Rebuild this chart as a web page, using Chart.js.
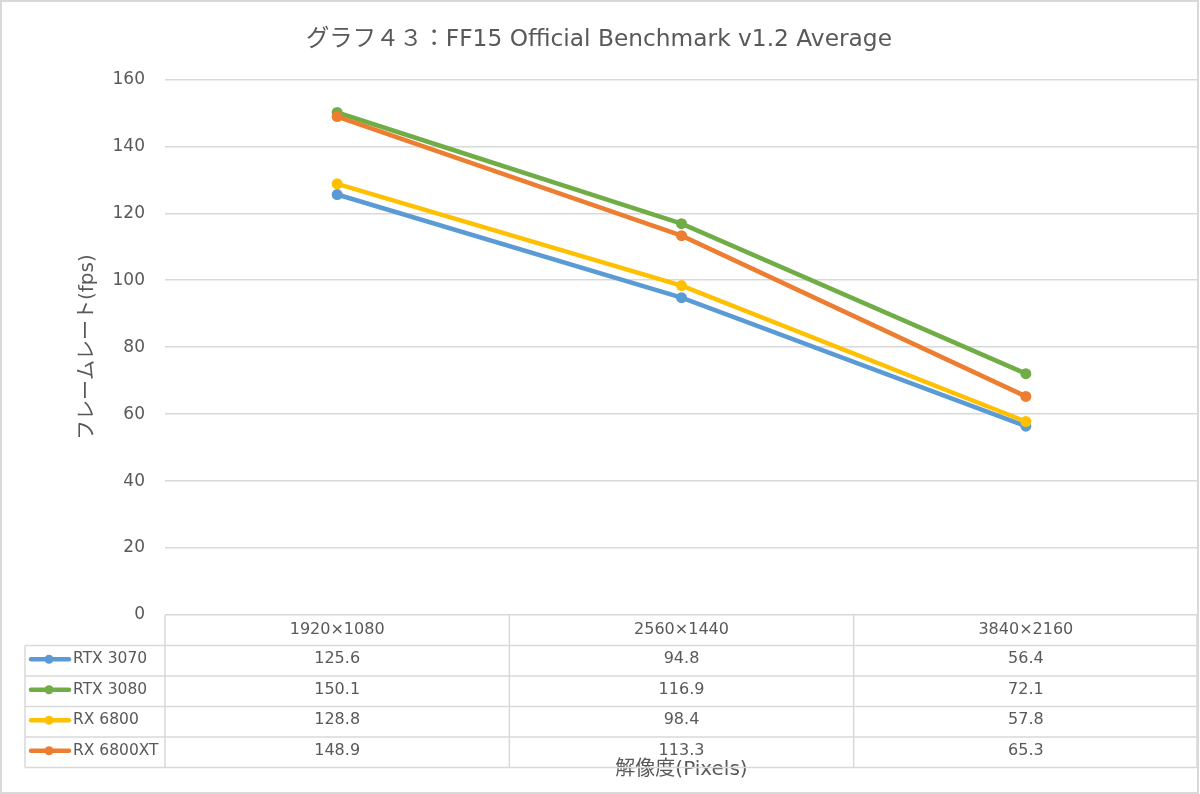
<!DOCTYPE html>
<html>
<head>
<meta charset="utf-8">
<script src="https://cdn.jsdelivr.net/npm/chart.js@4"></script>
<style>
  html, body { margin: 0; padding: 0; background: #fff; }
  #wrap { width: 1200px; height: 794px; position: relative; }
</style>
</head>
<body>
<div id="wrap"><canvas id="c"></canvas></div>
<script>
const categories = ['1920×1080', '2560×1440', '3840×2160'];
const seriesNames = ['RTX 3070', 'RTX 3080', 'RX 6800', 'RX 6800XT'];
const rtx3070 = [125.6, 94.8, 56.4];
const rtx3080 = [150.1, 116.9, 72.1];
const rx6800 = [128.8, 98.4, 57.8];
const rx6800xt = [148.9, 113.3, 65.3];
const seriesColors = ['#5B9BD5', '#70AD47', '#FFC000', '#ED7D31'];
const yMin = 0, yMax = 160, yStep = 20;
const chartTitle = 'グラフ４３：FF15 Official Benchmark v1.2 Average';
const yTitle = 'フレームレート(fps)';
const xTitle = '解像度(Pixels)';

const seriesValues = [rtx3070, rtx3080, rx6800, rx6800xt];
const FONT = "'DejaVu Sans', 'Noto Sans CJK JP', sans-serif";
const TEXT = '#595959';
const GRID = '#d9d9d9';

const tablePlugin = {
  id: 'dataTable',
  afterDraw(chart) {
    const ctx = chart.ctx;
    const xs = chart.scales.x;
    const area = chart.chartArea;
    const left = xs.left, right = xs.right;
    const n = categories.length;
    const colW = (right - left) / n;
    const top = area.bottom;
    const headerH = 30.5, rowH = 30.5;
    const legendLeft = 25;
    const bottom = top + headerH + seriesNames.length * rowH;
    const rightEdge = Math.min(right, chart.width - 3);
    ctx.save();
    ctx.strokeStyle = GRID;
    ctx.lineWidth = 1.5;
    const line = (x1, y1, x2, y2) => { ctx.beginPath(); ctx.moveTo(x1, y1); ctx.lineTo(x2, y2); ctx.stroke(); };
    for (let r = 0; r <= seriesNames.length; r++) {
      const y = top + headerH + r * rowH;
      line(legendLeft, y, rightEdge, y);
    }
    line(legendLeft, top + headerH, legendLeft, bottom);
    for (let c = 0; c <= n; c++) {
      const x = Math.min(left + c * colW, rightEdge);
      line(x, top, x, bottom);
    }
    ctx.fillStyle = TEXT;
    ctx.textBaseline = 'middle';
    for (let r = 0; r < seriesNames.length; r++) {
      const cy = top + headerH + r * rowH + rowH / 2 - 1.5;
      // legend marker
      ctx.strokeStyle = seriesColors[r];
      ctx.lineWidth = 4.5;
      ctx.lineCap = 'round';
      line(31, cy, 69, cy);
      ctx.beginPath();
      ctx.arc(49, cy, 4.5, 0, Math.PI * 2);
      ctx.fillStyle = seriesColors[r];
      ctx.fill();
      ctx.fillStyle = TEXT;
      ctx.textAlign = 'left';
      ctx.font = '15.5px ' + FONT;
      ctx.fillText(seriesNames[r], 73, cy);
      ctx.textAlign = 'center';
      ctx.font = '16px ' + FONT;
      for (let c = 0; c < n; c++) {
        ctx.fillText(seriesValues[r][c].toFixed(1), left + c * colW + colW / 2, cy);
      }
    }
    // outer border
    ctx.strokeStyle = GRID;
    ctx.lineWidth = 2;
    ctx.lineCap = 'butt';
    ctx.strokeRect(1, 1, chart.width - 3, chart.height - 2);
    ctx.restore();
  }
};

const datasets = seriesNames.map((name, i) => ({
  label: name,
  data: seriesValues[i],
  borderColor: seriesColors[i],
  backgroundColor: seriesColors[i],
  borderWidth: 4.5,
  pointRadius: 5.5,
  pointHoverRadius: 5.5,
  pointBorderWidth: 0,
  tension: 0,
  order: seriesNames.length - i
}));

new Chart(document.getElementById('c'), {
  type: 'line',
  data: { labels: categories, datasets },
  plugins: [tablePlugin],
  options: {
    responsive: true,
    maintainAspectRatio: false,
    animation: false,
    layout: { autoPadding: false, padding: { top: 0, left: 0, right: 2, bottom: 4 } },
    plugins: {
      legend: { display: false },
      tooltip: { enabled: false },
      title: {
        display: true,
        text: chartTitle,
        color: TEXT,
        font: { family: FONT, size: 23.3, weight: 'normal' },
        padding: { top: 26, bottom: 25.4 }
      }
    },
    scales: {
      x: {
        type: 'category',
        offset: true,
        grid: { display: false, drawTicks: false },
        border: { display: false },
        ticks: { color: TEXT, font: { family: FONT, size: 16 }, padding: 5, maxRotation: 0 },
        title: {
          display: true, text: xTitle, color: TEXT,
          font: { family: FONT, size: 20 },
          padding: { top: 0, bottom: 8 }
        },
        afterFit(scale) { scale.height = 175; }
      },
      y: {
        min: yMin, max: yMax,
        grid: { color: GRID, lineWidth: 1.5, drawTicks: false },
        border: { display: false },
        ticks: { stepSize: yStep, color: TEXT, font: { family: FONT, size: 17 }, padding: 20 },
        title: {
          display: true, text: yTitle, color: TEXT,
          font: { family: FONT, size: 20 },
          padding: { top: 76, bottom: 0 }
        },
        afterFit(scale) { scale.width = 165; }
      }
    }
  }
});
</script>
</body>
</html>
